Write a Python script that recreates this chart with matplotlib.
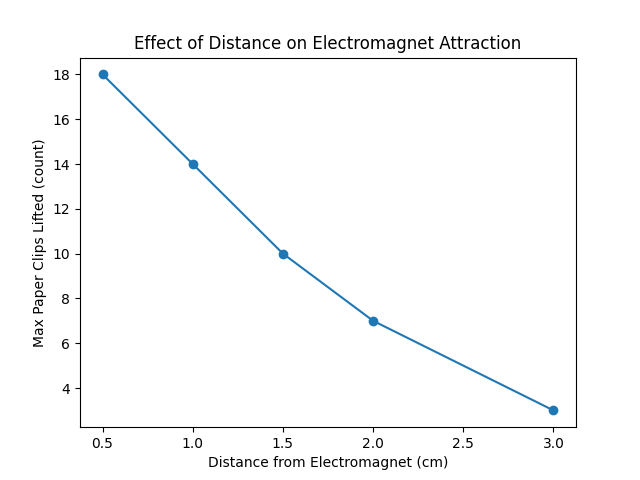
import matplotlib
matplotlib.use('agg')
import matplotlib.pyplot as plt

distance_cm = [0.5, 1.0, 1.5, 2.0, 3.0]
paper_clips = [18, 14, 10, 7, 3]

fig, ax = plt.subplots(figsize=(6.4, 4.8), dpi=100)
ax.plot(distance_cm, paper_clips, marker='o')
ax.set_title('Effect of Distance on Electromagnet Attraction')
ax.set_xlabel('Distance from Electromagnet (cm)')
ax.set_ylabel('Max Paper Clips Lifted (count)')
plt.savefig('out.png')
